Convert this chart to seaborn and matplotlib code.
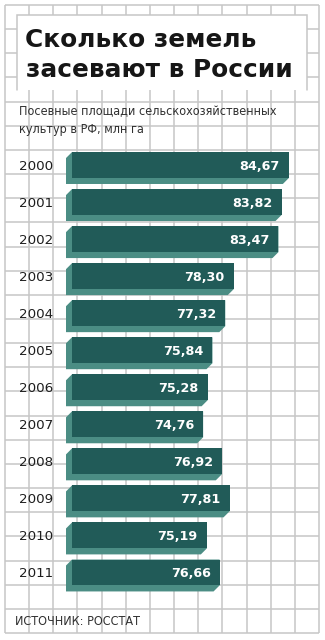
import matplotlib
matplotlib.use("Agg")
import matplotlib.pyplot as plt
from matplotlib import font_manager
from matplotlib.patches import Polygon, Rectangle
import numpy as np
import seaborn as sns

# Sown area of agricultural crops in Russia, mln ha
years = ["2000", "2001", "2002", "2003", "2004", "2005",
         "2006", "2007", "2008", "2009", "2010", "2011"]
area = [84.67, 83.82, 83.47, 78.30, 77.32, 75.84,
        75.28, 74.76, 76.92, 77.81, 75.19, 76.66]

title_lines = ["Сколько земель", "засевают в России"]
subtitle_lines = ["Посевные площади сельскохозяйственных",
                  "культур в РФ, млн га"]
source = "ИСТОЧНИК: РОССТАТ"

DARK = "#215b58"
LIGHT = "#4b8d84"
GRID = "#c6c6c6"
W, H = 325, 640

# pick a narrow face for the small captions
font_files = [f.fname for f in font_manager.fontManager.ttflist]
font_names = {f.name for f in font_manager.fontManager.ttflist}
if "Liberation Sans Narrow" in font_names:
    narrow = dict(family="Liberation Sans Narrow")
    note_size = 10.0
elif any("DejaVuSansCondensed" in p for p in font_files):
    narrow = dict(family="DejaVu Sans", stretch="condensed")
    note_size = 9.0
else:
    narrow = dict(family="DejaVu Sans")
    note_size = 8.2

sns.set_theme(style="white")
plt.rcParams["font.family"] = ["DejaVu Sans"]

fig = plt.figure(figsize=(W / 100, H / 100), dpi=100)

# background sheet in pixel coordinates
bg = fig.add_axes([0, 0, 1, 1])
bg.set_xlim(0, W)
bg.set_ylim(H, 0)
bg.axis("off")

xs = np.linspace(5, 319, 14)
ys = np.linspace(5, 633, 27)
bg.vlines(xs, 5, 633, color=GRID, lw=1.1, zorder=0)
bg.hlines(ys, 5, 319, color=GRID, lw=1.1, zorder=0)

# white title panel
bg.add_patch(Rectangle((17, 15), 290, 75, facecolor="white", edgecolor="none", zorder=1))
bg.plot([17, 17, 307, 307], [90, 15, 15, 90], color=GRID, lw=1.1, zorder=2,
        solid_joinstyle="miter")

bg.text(25, 47, title_lines[0], fontsize=17.8, fontweight="heavy", color="#161616",
        va="baseline", ha="left", zorder=3)
bg.text(26, 77, title_lines[1], fontsize=17.8, fontweight="heavy", color="#161616",
        va="baseline", ha="left", zorder=3)

bg.text(19, 115, subtitle_lines[0], fontsize=note_size, color="#303030",
        va="baseline", ha="left", **narrow)
bg.text(19, 133, subtitle_lines[1], fontsize=note_size, color="#303030",
        va="baseline", ha="left", **narrow)
bg.text(15, 625, source, fontsize=note_size, color="#303030",
        va="baseline", ha="left", **narrow)

# bar panel
top_px, bot_px, left_px, right_px = 146.5, 591.0, 72.0, 320.0
ax = fig.add_axes([left_px / W, 1 - bot_px / H, (right_px - left_px) / W,
                   (bot_px - top_px) / H])
ax.patch.set_alpha(0)
sns.barplot(x=area, y=years, orient="h", color=DARK, saturation=1,
            width=0.7, ax=ax, zorder=3, linewidth=0, edgecolor="none")
x0 = 59.6
ax.set_xlim(x0, x0 + (right_px - left_px) / 8.65)
ax.set_ylim(len(years) - 0.5, -0.5)
ax.set_xlabel("")
ax.set_ylabel("")
ax.set_xticks([])
for s in ax.spines.values():
    s.set_visible(False)
ax.tick_params(axis="y", length=0, pad=13.5, labelsize=9.7, labelcolor="#1e1e1e")

# extruded lighter side of each bar
d = 6.0
to_px = ax.transData.transform
to_data = ax.transData.inverted().transform
for p in list(ax.patches):
    bx0 = max(p.get_x(), x0)
    bx1 = p.get_x() + p.get_width()
    yt, yb = p.get_y(), p.get_y() + p.get_height()
    (L, T), (R, B) = to_px([(bx0, yt), (bx1, yb)])
    # display y grows upward: T is the top edge, B the bottom edge
    pts = [(L, T), (L - d, T - d), (L - d, B - d), (R - d, B - d), (R, B), (R, T)]
    ax.add_patch(Polygon(to_data(pts), closed=True, facecolor=LIGHT,
                         edgecolor="none", zorder=2, clip_on=False))

for i, v in enumerate(area):
    ax.annotate(f"{v:.2f}".replace(".", ","), xy=(v, i), xytext=(-9, 0),
                textcoords="offset pixels", ha="right", va="center_baseline",
                color="white", fontsize=9.2, fontweight="bold", zorder=5)

fig.savefig("out.png", dpi=100)
